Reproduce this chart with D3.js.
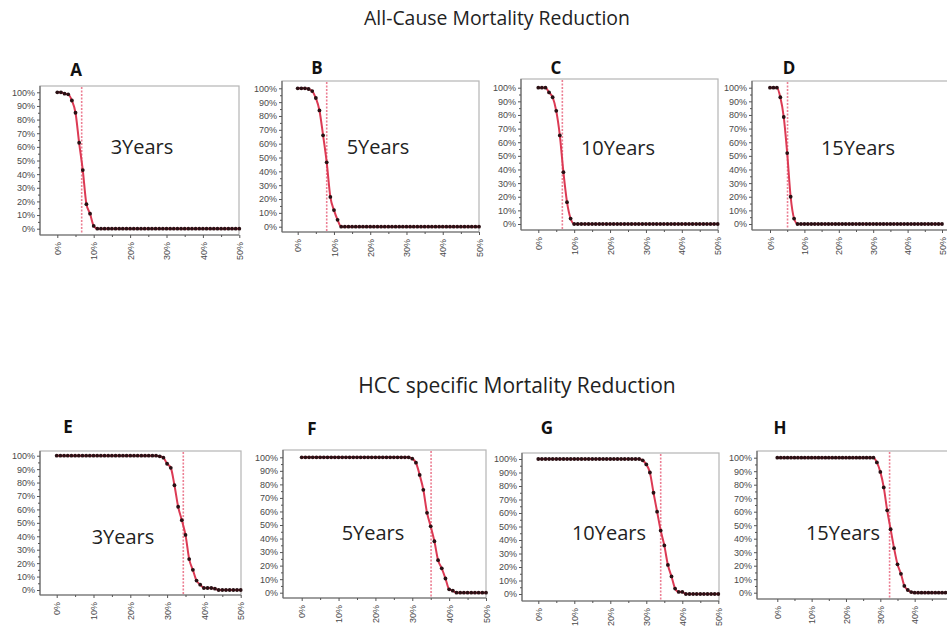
<!DOCTYPE html>
<html>
<head>
<meta charset="utf-8">
<script src="https://cdn.jsdelivr.net/npm/d3@7/dist/d3.min.js"></script>
<style>
  body { margin: 0; background: #fff; }
  svg { display: block; }
</style>
</head>
<body>
<div id="chart"></div>
<script>
// reduction in mortality (x, %) and probability of cost-effectiveness (y, %)
const reductionPct = [0,1,2,3,4,5,6,7,8,9,10,11,12,13,14,15,16,17,18,19,20,21,22,23,24,25,
  26,27,28,29,30,31,32,33,34,35,36,37,38,39,40,41,42,43,44,45,46,47,48,49,50];

const allCause3y  = [100,100,99,98.5,94,85,63,43,18,11,2,0,0,0,0,0,0,0,0,0,0,0,0,0,0,0,
  0,0,0,0,0,0,0,0,0,0,0,0,0,0,0,0,0,0,0,0,0,0,0,0,0];
const allCause5y  = [100,100,100,99.5,98,93,84,66,46.5,21.5,12,5,0,0,0,0,0,0,0,0,0,0,0,0,0,0,
  0,0,0,0,0,0,0,0,0,0,0,0,0,0,0,0,0,0,0,0,0,0,0,0,0];
const allCause10y = [100,100,100,96.5,93,83,65,38,16,4,0,0,0,0,0,0,0,0,0,0,0,0,0,0,0,0,
  0,0,0,0,0,0,0,0,0,0,0,0,0,0,0,0,0,0,0,0,0,0,0,0,0];
const allCause15y = [100,100,100,93,78.5,52,20,4,0,0,0,0,0,0,0,0,0,0,0,0,0,0,0,0,0,0,
  0,0,0,0,0,0,0,0,0,0,0,0,0,0,0,0,0,0,0,0,0,0,0,0,0];
const hcc3y  = [100,100,100,100,100,100,100,100,100,100,100,100,100,100,100,100,100,100,100,100,
  100,100,100,100,100,100,100,100,99.5,98.5,94,91,78,62,52,41,23,15,7,4,1.5,1.5,1.5,1,0,0,0,0,0,0,0];
const hcc5y  = [100,100,100,100,100,100,100,100,100,100,100,100,100,100,100,100,100,100,100,100,
  100,100,100,100,100,100,100,100,100,100,99,96,87,76,59,49,38,24,18,10.5,2.5,1.5,0,0,0,0,0,0,0,0,0];
const hcc10y = [100,100,100,100,100,100,100,100,100,100,100,100,100,100,100,100,100,100,100,100,
  100,100,100,100,100,100,100,100,100,99,96,90,75,61,47,36,21.5,13,4,1.5,1.5,0,0,0,0,0,0,0,0,0,0];
const hcc15y = [100,100,100,100,100,100,100,100,100,100,100,100,100,100,100,100,100,100,100,100,
  100,100,100,100,100,100,100,100,100,96.5,89.5,78,61,47,33,21,14,5,2,0.5,0,0,0,0,0,0,0,0,0,0,0];

const seriesValues = [allCause3y, allCause5y, allCause10y, allCause15y, hcc3y, hcc5y, hcc10y, hcc15y];
const cutoffs = [6.7, 8.0, 6.7, 5.1, 34.4, 35.1, 34.0, 32.7];
const panelLetters = ["A", "B", "C", "D", "E", "F", "G", "H"];
const horizonLabels = ["3Years", "5Years", "10Years", "15Years", "3Years", "5Years", "10Years", "15Years"];
const groupTitles = ["All-Cause Mortality Reduction", "HCC specific Mortality Reduction"];
const xTickValues = [0, 10, 20, 30, 40, 50];
const xMinorValues = [5, 15, 25, 35, 45];
const yTickValues = [0, 10, 20, 30, 40, 50, 60, 70, 80, 90, 100];
const yMinorValues = [5, 15, 25, 35, 45, 55, 65, 75, 85, 95];

// panel placement: frame box, where 0%/50% and 0%/100% fall, letter and label spots
const boxes = [
  { f: [40, 86, 239, 235],  x: [57.3, 239.3],  y: [228.7, 92.3], letter: [76, 70],   label: [142, 147] },
  { f: [282, 81, 479, 232], x: [297.7, 479],   y: [226.7, 88.3], letter: [317, 68],  label: [378, 147] },
  { f: [521, 79, 718, 230], x: [538.3, 717.7], y: [224, 87.7],   letter: [556, 68],  label: [618, 148] },
  { f: [752, 81, 960, 230], x: [770, 942],     y: [224, 87.7],   letter: [789, 68],  label: [858, 148] },
  { f: [40, 451, 241, 595], x: [56.7, 240.7],  y: [590, 455.7],  letter: [68, 427],  label: [123, 537] },
  { f: [283, 450, 486, 598], x: [301.7, 486],  y: [592.7, 457.3], letter: [312, 429], label: [373, 533] },
  { f: [522, 453, 719, 601], x: [538.3, 718.3], y: [594, 459],   letter: [547, 428], label: [609, 533] },
  { f: [757, 451, 960, 599], x: [777.3, 949],  y: [592.7, 457.7], letter: [780, 428], label: [843, 533] }
];

const width = 947, height = 631;

const svg = d3.select("#chart").append("svg")
  .attr("width", width)
  .attr("height", height);

svg.selectAll("text.group-title")
  .data(groupTitles)
  .enter().append("text")
  .attr("class", "group-title")
  .attr("x", (d, i) => i === 0 ? 497 : 517)
  .attr("y", (d, i) => i === 0 ? 25 : 393)
  .attr("text-anchor", "middle")
  .style("font-family", "'Open Sans', sans-serif")
  .style("font-size", (d, i) => i === 0 ? "19.4px" : "21px")
  .style("fill", "#222")
  .text(d => d);

boxes.forEach((b, i) => {
  const values = seriesValues[i];
  const data = reductionPct.map((p, k) => ({ p: p, v: values[k] }));

  const x = d3.scaleLinear().domain([0, 50]).range(b.x);
  const y = d3.scaleLinear().domain([0, 100]).range(b.y);

  const g = svg.append("g");

  // frame
  g.append("rect")
    .attr("x", b.f[0])
    .attr("y", b.f[1])
    .attr("width", b.f[2] - b.f[0])
    .attr("height", b.f[3] - b.f[1])
    .attr("fill", "#fff")
    .attr("stroke", "#b5b5b5")
    .attr("stroke-width", 1.2);

  // y axis
  const yAxis = g.append("g")
    .attr("transform", `translate(${b.f[0]},0)`)
    .call(d3.axisLeft(y).tickValues(yTickValues).tickFormat(d => d + "%").tickSize(3).tickPadding(2));
  g.append("g")
    .attr("transform", `translate(${b.f[0]},0)`)
    .call(d3.axisLeft(y).tickValues(yMinorValues).tickFormat("").tickSize(2))
    .select(".domain").remove();

  // x axis, only ticks that land inside the page
  const xShown = xTickValues.filter(t => x(t) < width - 4);
  const xAxis = g.append("g")
    .attr("transform", `translate(0,${b.f[3]})`)
    .call(d3.axisBottom(x).tickValues(xShown).tickFormat(d => d + "%").tickSize(3));
  g.append("g")
    .attr("transform", `translate(0,${b.f[3]})`)
    .call(d3.axisBottom(x).tickValues(xMinorValues).tickFormat("").tickSize(2))
    .select(".domain").remove();

  xAxis.select(".domain").attr("d", `M${b.f[0]},0H${b.f[2]}`);
  yAxis.select(".domain").attr("d", `M0,${b.f[1]}V${b.f[3]}`);

  xAxis.selectAll("text")
    .attr("transform", "rotate(-90)")
    .attr("text-anchor", "end")
    .attr("x", -7)
    .attr("y", 0)
    .attr("dy", "0.35em");

  g.selectAll(".domain").attr("stroke", "#6a6a6a").attr("stroke-width", 1.2);
  g.selectAll(".tick line").attr("stroke", "#555");
  g.selectAll(".tick text")
    .style("font-family", "'Liberation Sans', Arial, sans-serif")
    .style("font-size", "9px")
    .attr("fill", "#4a4a4a");

  // cut-off line (a bit wide so the pink survives)
  g.append("line")
    .attr("x1", x(cutoffs[i]))
    .attr("x2", x(cutoffs[i]))
    .attr("y1", b.f[1] + 1)
    .attr("y2", b.f[3] - 1)
    .attr("stroke", "#ec7f93")
    .attr("stroke-width", 1.6)
    .attr("stroke-dasharray", "2,1.5");

  const line = d3.line()
    .x(d => x(d.p))
    .y(d => y(d.v))
    .curve(d3.curveMonotoneX);

  g.append("path")
    .datum(data)
    .attr("fill", "none")
    .attr("stroke", "#dc3a54")
    .attr("stroke-width", 2)
    .attr("d", line);

  g.selectAll("circle")
    .data(data)
    .enter().append("circle")
    .attr("cx", d => x(d.p))
    .attr("cy", d => y(d.v))
    .attr("r", 1.9)
    .attr("fill", "#2a1014");

  g.append("text")
    .attr("x", b.label[0])
    .attr("y", b.label[1])
    .attr("dy", "0.35em")
    .attr("text-anchor", "middle")
    .style("font-family", "'Open Sans', sans-serif")
    .style("font-size", "20px")
    .style("fill", "#222")
    .text(horizonLabels[i]);

  g.append("text")
    .attr("x", b.letter[0])
    .attr("y", b.letter[1])
    .attr("dy", "0.35em")
    .attr("text-anchor", "middle")
    .style("font-family", "'Open Sans', sans-serif")
    .style("font-weight", "bold")
    .style("font-size", "17px")
    .style("fill", "#111")
    .text(panelLetters[i]);
});
</script>
</body>
</html>
